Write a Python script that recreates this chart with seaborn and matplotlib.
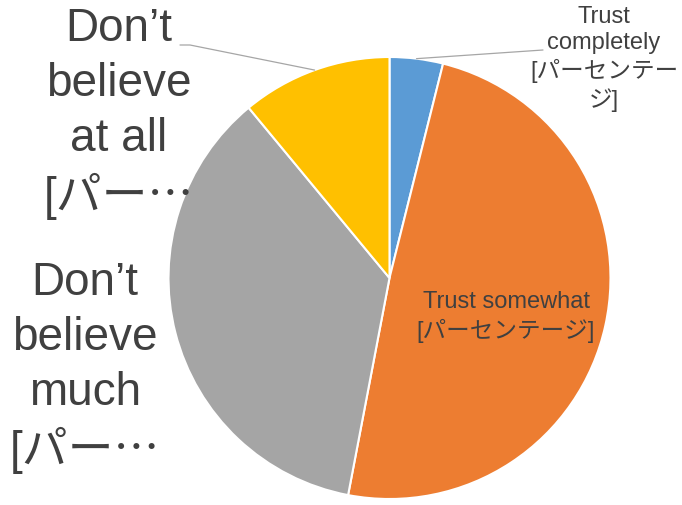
import seaborn as sns
import matplotlib.pyplot as plt
import numpy as np

# Slices, clockwise from 12 o'clock
categories = ["Trust completely", "Trust somewhat", "Don’t believe much", "Don’t believe at all"]
shares = [3.9, 49.1, 36.0, 11.0]
slice_labels = [
    "Trust\ncompletely\n[パーセンテー\nジ]",
    "Trust somewhat\n[パーセンテージ]",
    "Don’t\nbelieve\nmuch\n[パー⋯",
    "Don’t\nbelieve\nat all\n[パー⋯",
]
colors = ["#5B9BD5", "#ED7D31", "#A5A5A5", "#FFC000"]

sns.set_style("white")
plt.rcParams['font.family'] = ['Liberation Sans', 'Noto Sans CJK JP', 'DejaVu Sans']

W, H = 682, 505
fig = plt.figure(figsize=(W / 100, H / 100), dpi=100)
ax = fig.add_axes([0, 0, 1, 1])

# pie centre / radius in pixels (from top-left)
cx, cy, rad = 389.5, 278, 221


def px(x, y):
    return (x - cx) / rad, (cy - y) / rad


wedges, _ = ax.pie(shares, colors=colors, startangle=90, counterclock=False, radius=1,
                   wedgeprops=dict(edgecolor="white", linewidth=1.5))
ax.set_xlim(-cx / rad, (W - cx) / rad)
ax.set_ylim(-(H - cy) / rad, cy / rad)
ax.axis("off")

txt_col = "#404040"
line_col = "#A6A6A6"


def mid_point(w):
    t = np.deg2rad((w.theta1 + w.theta2) / 2)
    return np.cos(t), np.sin(t)


# baseline anchor = last line of each label
# Trust completely (small, outside with leader)
x, y = px(604, 107)
ax.text(x, y, slice_labels[0], ha="center", va="baseline", multialignment="center",
        fontsize=17, color=txt_col, linespacing=1.26)
mx, my = mid_point(wedges[0])
sx, sy = px(543, 50)
ax.plot([sx, mx], [sy, my], color=line_col, lw=0.9)

# Trust somewhat (inside)
x, y = px(506, 338)
ax.text(x, y, slice_labels[1], ha="center", va="baseline", multialignment="center",
        fontsize=17, color=txt_col, linespacing=1.3)

# Don't believe much
x, y = px(85, 464)
ax.text(x, y, slice_labels[2], ha="center", va="baseline", multialignment="center",
        fontsize=33, color=txt_col, linespacing=1.32)

# Don't believe at all (with leader)
x, y = px(119, 210)
ax.text(x, y, slice_labels[3], ha="center", va="baseline", multialignment="center",
        fontsize=33, color=txt_col, linespacing=1.32)
mx, my = mid_point(wedges[3])
sx, sy = px(180, 45)
ex, _ = px(190, 45)
ax.plot([sx, ex, mx], [sy, sy, my], color=line_col, lw=0.9)

fig.savefig("out.png", dpi=100)
